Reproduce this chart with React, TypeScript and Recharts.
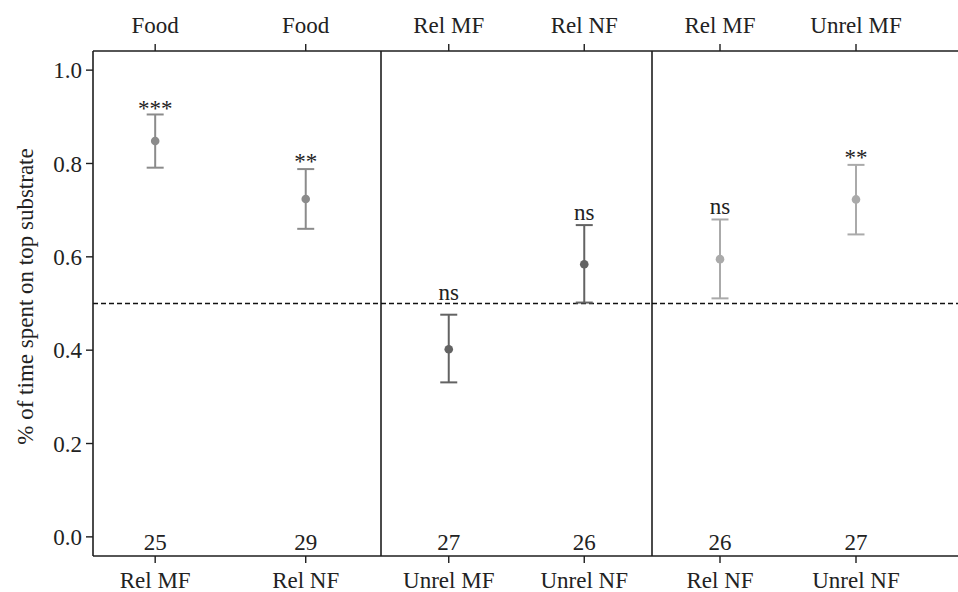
import React from "react";
import { ComposedChart, Scatter, XAxis, YAxis, ErrorBar, ReferenceLine } from "recharts";

const topLabels = ["Food", "Food", "Rel MF", "Rel NF", "Rel MF", "Unrel MF"];
const bottomLabels = ["Rel MF", "Rel NF", "Unrel MF", "Unrel NF", "Rel NF", "Unrel NF"];
const means = [0.848, 0.724, 0.402, 0.584, 0.595, 0.723];
const lower = [0.791, 0.66, 0.331, 0.502, 0.511, 0.648];
const upper = [0.905, 0.788, 0.476, 0.668, 0.68, 0.797];
const counts = [25, 29, 27, 26, 26, 27];
const sigLabels = ["***", "**", "ns", "ns", "ns", "**"];
const sigY = [0.902, 0.788, 0.507, 0.678, 0.691, 0.797];
const countY = -0.028;
const yTicks = [0, 0.2, 0.4, 0.6, 0.8, 1.0];
const panelColors = ["#8b8b8b", "#636363", "#aaaaaa"];

const FONT = "Liberation Serif";
const FS = 23;
const TEXT = "#222222";
const AXIS = "#1e1e1e";
const Y_DOMAIN: [number, number] = [-0.041, 1.041];
const H = 592;

function buildRows(p: number) {
  return [0, 1].map((k) => {
    const i = p * 2 + k;
    return {
      x: k + 1,
      mean: means[i],
      err: [means[i] - lower[i], upper[i] - means[i]],
      sig: sigLabels[i],
      sigY: sigY[i],
      n: counts[i],
      countY,
    };
  });
}

const Dot = (color: string) => (props: any) => {
  const { cx, cy } = props;
  if (cx == null || cy == null) return <g />;
  return <circle cx={cx} cy={cy} r={4.3} fill={color} />;
};

const SigText = (props: any) => {
  const { cx, cy, payload } = props;
  if (cx == null || cy == null) return <g />;
  return (
    <text x={cx} y={cy} textAnchor="middle" style={{ fontFamily: FONT, fontSize: FS }} fill={TEXT}>
      {payload.sig}
    </text>
  );
};

const CountText = (props: any) => {
  const { cx, cy, payload } = props;
  if (cx == null || cy == null) return <g />;
  return (
    <text x={cx} y={cy} textAnchor="middle" style={{ fontFamily: FONT, fontSize: FS }} fill={TEXT}>
      {payload.n}
    </text>
  );
};

const YLabel = (props: any) => {
  const vb = props.viewBox || { x: 0, y: 0, width: 0, height: 0 };
  const cx = vb.x + 25;
  const cy = vb.y + vb.height / 2 - 7;
  return (
    <text
      x={cx}
      y={cy}
      transform={`rotate(-90 ${cx} ${cy})`}
      textAnchor="middle"
      dominantBaseline="central"
      style={{ fontFamily: FONT, fontSize: FS }}
      fill={TEXT}
    >
      % of time spent on top substrate
    </text>
  );
};

type PanelProps = {
  p: number;
  left: number;
  width: number;
  margin: { top: number; right: number; bottom: number; left: number };
  domain: [number, number];
  first: boolean;
};

function Panel({ p, left, width, margin, domain, first }: PanelProps) {
  const rows = buildRows(p);
  const color = panelColors[p];
  const tickStyle = { fontFamily: FONT, fontSize: FS, fill: TEXT };
  return (
    <div style={{ position: "absolute", left, top: 0, width, height: H }}>
      <ComposedChart width={width} height={H} data={rows} margin={margin}>
        <XAxis
          xAxisId="b"
          type="number"
          dataKey="x"
          domain={domain}
          allowDataOverflow
          ticks={[1, 2]}
          tickFormatter={(v: number) => bottomLabels[p * 2 + v - 1]}
          orientation="bottom"
          height={36}
          tickSize={7}
          tickMargin={9}
          tick={tickStyle}
          stroke={AXIS}
          axisLine={{ stroke: AXIS, strokeWidth: 1.6 }}
          tickLine={{ stroke: AXIS, strokeWidth: 1.4 }}
          interval={0}
        />
        <XAxis
          xAxisId="t"
          type="number"
          dataKey="x"
          domain={domain}
          allowDataOverflow
          ticks={[1, 2]}
          tickFormatter={(v: number) => topLabels[p * 2 + v - 1]}
          orientation="top"
          height={51}
          tickSize={7}
          tickMargin={11}
          tick={tickStyle}
          stroke={AXIS}
          axisLine={{ stroke: AXIS, strokeWidth: 1.6 }}
          tickLine={{ stroke: AXIS, strokeWidth: 1.4 }}
          interval={0}
        />
        {first ? (
          <YAxis
            yAxisId="y"
            type="number"
            domain={Y_DOMAIN}
            allowDataOverflow
            ticks={yTicks}
            tickFormatter={(v: number) => v.toFixed(1)}
            width={93}
            tickSize={7}
            tickMargin={4}
            tick={tickStyle}
            stroke={AXIS}
            axisLine={{ stroke: AXIS, strokeWidth: 1.6 }}
            tickLine={{ stroke: AXIS, strokeWidth: 1.4 }}
            interval={0}
            label={<YLabel />}
          />
        ) : (
          <YAxis yAxisId="y" type="number" domain={Y_DOMAIN} allowDataOverflow hide />
        )}
        {!first && (
          <ReferenceLine
            xAxisId="b"
            yAxisId="y"
            x={domain[0]}
            stroke={AXIS}
            strokeWidth={1.6}
            ifOverflow="visible"
          />
        )}
        <ReferenceLine
          xAxisId="b"
          yAxisId="y"
          y={0.5}
          stroke="#111"
          strokeWidth={1.4}
          strokeDasharray="5 3"
        />
        <Scatter
          xAxisId="b"
          yAxisId="y"
          dataKey="mean"
          shape={Dot(color)}
          isAnimationActive={false}
        >
          <ErrorBar
            dataKey="err"
            direction="y"
            width={8.5}
            stroke={color}
            strokeWidth={2}
            isAnimationActive={false}
          />
        </Scatter>
        <Scatter
          xAxisId="b"
          yAxisId="y"
          dataKey="sigY"
          shape={SigText}
          isAnimationActive={false}
        />
        <Scatter
          xAxisId="b"
          yAxisId="y"
          dataKey="countY"
          shape={CountText}
          isAnimationActive={false}
        />
      </ComposedChart>
    </div>
  );
}

export default function App() {
  return (
    <div style={{ position: "absolute", left: 0, top: 0, width: 958, height: H, background: "#fff", overflow: "hidden" }}>
      <Panel p={0} left={0} width={383} margin={{ top: 0, right: 2, bottom: 0, left: 0 }} domain={[0.587, 2.5]} first />
      <Panel p={1} left={379} width={275} margin={{ top: 0, right: 2, bottom: 0, left: 2 }} domain={[0.5, 2.5]} first={false} />
      <Panel p={2} left={650} width={308} margin={{ top: 0, right: 0, bottom: 0, left: 2 }} domain={[0.5, 2.75]} first={false} />
    </div>
  );
}
